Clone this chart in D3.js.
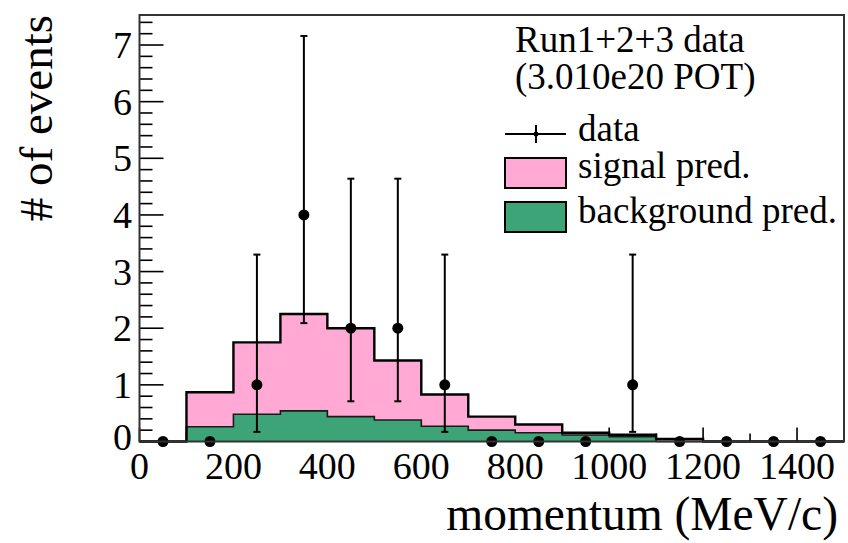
<!DOCTYPE html>
<html>
<head>
<meta charset="utf-8">
<script src="https://cdn.jsdelivr.net/npm/d3@7"></script>
<style>
  html, body { margin: 0; padding: 0; background: #fff; }
  svg { display: block; }
</style>
</head>
<body>
<svg id="chart" width="848" height="543"></svg>
<script>
// Momentum bins (MeV/c), 100 MeV/c wide
const binEdges = [0, 100, 200, 300, 400, 500, 600, 700, 800, 900, 1000, 1100, 1200, 1300, 1400, 1500];
// Predicted background per bin
const backgroundPred = [0, 0.26, 0.48, 0.54, 0.44, 0.38, 0.27, 0.20, 0.155, 0.115, 0.085, 0, 0, 0, 0];
// Predicted signal per bin (stacked on top of background)
const signalPred = [0, 0.61, 1.27, 1.71, 1.56, 1.05, 0.56, 0.24, 0.145, 0.04, 0.035, 0.045, 0, 0, 0];
// Observed events per bin and their asymmetric (Poisson) error bars
const dataCounts = [0, 0, 1, 4, 2, 2, 1, 0, 0, 0, 1, 0, 0, 0, 0];
const dataErrLow = [0, 0, 0.83, 1.91, 1.29, 1.29, 0.83, 0, 0, 0, 0.83, 0, 0, 0, 0];
const dataErrHigh = [0, 0, 2.30, 3.16, 2.64, 2.64, 2.30, 0, 0, 0, 2.30, 0, 0, 0, 0];
// Axis ticks
const xTickLabels = [0, 200, 400, 600, 800, 1000, 1200, 1400];
const yTickLabels = [0, 1, 2, 3, 4, 5, 6, 7];

const FONT = "'Liberation Serif', 'Times New Roman', 'DejaVu Serif', serif";
const svg = d3.select("#chart").attr("font-family", FONT);
const frameL = 139.5, frameR = 844, frameT = 15, frameB = 441.5;

const x = d3.scaleLinear().domain([0, 1500]).range([frameL, frameR]);
const y = d3.scaleLinear().domain([0, 7.53]).range([frameB, frameT]);

// ---- axis ticks (drawn under the histograms) ----
const ticks = svg.append("g").attr("stroke", "#000").attr("stroke-width", 1.6);
d3.range(0, 1501, 100).forEach(v => {
  const major = v % 200 === 0;
  ticks.append("line")
    .attr("x1", x(v)).attr("x2", x(v))
    .attr("y1", frameB).attr("y2", frameB - (major ? 14 : 8));
});
d3.range(0, 7.5, 0.2).forEach(v => {
  const major = Math.abs(v - Math.round(v)) < 1e-6;
  ticks.append("line")
    .attr("x1", frameL).attr("x2", frameL + (major ? 24 : 13))
    .attr("y1", y(v)).attr("y2", y(v));
});

// ---- stacked histograms ----
const nb = backgroundPred.length;
const totalPred = backgroundPred.map((b, i) => b + signalPred[i]);
function stepPoints(vals) {
  const p = vals.map((v, i) => ({ e: binEdges[i], v }));
  p.push({ e: binEdges[nb], v: vals[nb - 1] });
  return p;
}
const area = d3.area().curve(d3.curveStepAfter)
  .x(d => x(d.e)).y0(y(0)).y1(d => y(d.v));
const line = d3.line().curve(d3.curveStepAfter)
  .x(d => x(d.e)).y(d => y(d.v));

svg.append("path").datum(stepPoints(totalPred))
  .attr("d", area).attr("fill", "#ffa9d4");
svg.append("path").datum(stepPoints(backgroundPred))
  .attr("d", area).attr("fill", "#3da477");
svg.append("path").datum(stepPoints(backgroundPred))
  .attr("d", line).attr("fill", "none").attr("stroke", "#1a1a1a").attr("stroke-width", 1.6);
svg.append("path").datum(stepPoints(totalPred))
  .attr("d", line).attr("fill", "none").attr("stroke", "#000").attr("stroke-width", 2.4);

// ---- data points with error bars ----
const pts = dataCounts.map((c, i) => ({
  xc: (binEdges[i] + binEdges[i + 1]) / 2, c, lo: dataErrLow[i], hi: dataErrHigh[i]
}));
const eb = svg.append("g").attr("stroke", "#000").attr("stroke-width", 2);
pts.filter(d => d.lo > 0 || d.hi > 0).forEach(d => {
  eb.append("line").attr("x1", x(d.xc)).attr("x2", x(d.xc))
    .attr("y1", y(d.c - d.lo)).attr("y2", y(d.c + d.hi));
  [d.c - d.lo, d.c + d.hi].forEach(v => {
    eb.append("line").attr("x1", x(d.xc) - 3.5).attr("x2", x(d.xc) + 3.5)
      .attr("y1", y(v)).attr("y2", y(v));
  });
});
svg.append("g").selectAll("circle").data(pts).join("circle")
  .attr("cx", d => x(d.xc)).attr("cy", d => y(d.c)).attr("r", 5.5).attr("fill", "#000");

// ---- frame ----
svg.append("rect")
  .attr("x", frameL).attr("y", frameT)
  .attr("width", frameR - frameL).attr("height", frameB - frameT)
  .attr("fill", "none").attr("stroke", "#333").attr("stroke-width", 2);

// ---- tick labels ----
svg.append("g").selectAll("text").data(xTickLabels).join("text")
  .attr("x", d => x(d)).attr("y", 479)
  .attr("text-anchor", "middle").attr("font-size", 38)
  .text(d => d);
svg.append("g").selectAll("text").data(yTickLabels).join("text")
  .attr("x", 132).attr("y", d => d === 0 ? y(d) + 8 : y(d) + 13)
  .attr("text-anchor", "end").attr("font-size", 38)
  .text(d => d);

// ---- axis titles ----
svg.append("text")
  .attr("x", 838).attr("y", 530)
  .attr("text-anchor", "end").attr("font-size", 47.5)
  .text("momentum (MeV/c)");
svg.append("text")
  .attr("transform", "translate(52,15) rotate(-90)")
  .attr("text-anchor", "end").attr("font-size", 47)
  .text("# of events");

// ---- legend ----
const lg = svg.append("g");
lg.append("text").attr("x", 515).attr("y", 52).attr("font-size", 37).text("Run1+2+3 data");
lg.append("text").attr("x", 515).attr("y", 89).attr("font-size", 37).text("(3.010e20 POT)");
lg.append("line").attr("x1", 505).attr("x2", 566).attr("y1", 134).attr("y2", 134)
  .attr("stroke", "#000").attr("stroke-width", 2);
lg.append("line").attr("x1", 536).attr("x2", 536).attr("y1", 125).attr("y2", 143)
  .attr("stroke", "#000").attr("stroke-width", 2);
lg.append("circle").attr("cx", 536).attr("cy", 134).attr("r", 2.5).attr("fill", "#000");
lg.append("text").attr("x", 578).attr("y", 141).attr("font-size", 37).text("data");
lg.append("rect").attr("x", 505).attr("y", 158).attr("width", 61).attr("height", 30)
  .attr("fill", "#ffa9d4").attr("stroke", "#000").attr("stroke-width", 2);
lg.append("text").attr("x", 578).attr("y", 178).attr("font-size", 37).text("signal pred.");
lg.append("rect").attr("x", 505).attr("y", 202).attr("width", 61).attr("height", 30)
  .attr("fill", "#3da477").attr("stroke", "#000").attr("stroke-width", 2);
lg.append("text").attr("x", 578).attr("y", 223).attr("font-size", 37).text("background pred.");
</script>
</body>
</html>
